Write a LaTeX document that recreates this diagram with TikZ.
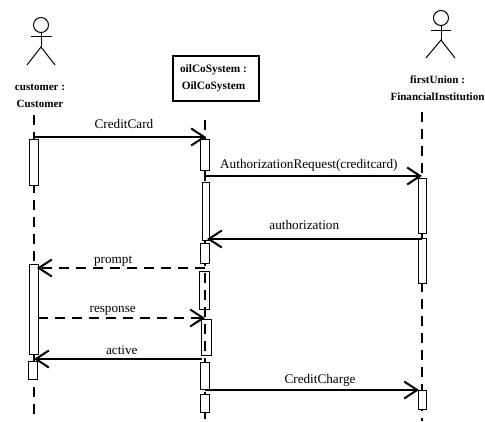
\documentclass[tikz,border=0pt]{standalone}
\usepackage{fontspec}
\setmainfont{Liberation Serif}
\usetikzlibrary{arrows.meta}
\tikzset{
	head/.style={circle, draw, line width=1pt, minimum size=15pt, inner sep=0pt},
	limb/.style={-, line width=1pt},
	caption/.style={font=\fontsize{11.05}{17}\selectfont\bfseries, inner sep=0pt, align=center},
	objectbox/.style={draw, line width=1.2pt, minimum width=86pt, minimum height=45pt, inner sep=0pt, align=center, font=\fontsize{11.3}{16.5}\selectfont\bfseries},
	lifeline/.style={-, line width=1.8pt, dash pattern=on 10pt off 7pt},
	activation/.style={draw, fill=white, line width=.9pt, minimum width=8.5pt, inner sep=0pt},
	glass/.style={activation, fill=none},
	msg/.style={-{Straight Barb[length=13pt,width=17pt,line width=2pt]}, line width=1.8pt, shorten >=-1pt},
	reply/.style={msg, dash pattern=on 10pt off 7pt},
	msgtext/.style={font=\fontsize{13.2}{15}\selectfont, inner sep=0pt, anchor=base}
}
\begin{document}
\begin{tikzpicture}[x=1pt,y=-1pt]
	\useasboundingbox (0,0) rectangle (485,421);
	% actors
	\node[head] (customer-head) at (41,25) {};
	\coordinate (customer-hip) at (41,47);
	\coordinate (customer-larm) at (31,36);
	\coordinate (customer-rarm) at (52,36);
	\coordinate (customer-lfoot) at (27,65);
	\coordinate (customer-rfoot) at (55,65);
	\draw[limb] (customer-head) -- (customer-hip) (customer-larm) -- (customer-rarm);
	\draw[limb] (customer-lfoot) -- (customer-hip) -- (customer-rfoot);
	\node[caption] (customer-name) at (40,95.5) {customer :\\Customer};

	\node[head] (union-head) at (441,18) {};
	\coordinate (union-hip) at (441,40);
	\coordinate (union-larm) at (431,30);
	\coordinate (union-rarm) at (451,30);
	\coordinate (union-lfoot) at (426,58);
	\coordinate (union-rfoot) at (455,58);
	\draw[limb] (union-head) -- (union-hip) (union-larm) -- (union-rarm);
	\draw[limb] (union-lfoot) -- (union-hip) -- (union-rfoot);
	\node[caption] (union-name) at (437.5,88) {firstUnion :\\FinancialInstitution};

	\node[objectbox] (system) at (216,78.5) {oilCoSystem :\hspace*{5pt}\\OilCoSystem\hspace*{5pt}};

	% lifelines
	\coordinate (customer-top) at (34,115);
	\coordinate (customer-end) at (34,416);
	\coordinate (system-top) at (205,120);
	\coordinate (system-end) at (205,421);
	\coordinate (union-top) at (422,112);
	\coordinate (union-end) at (422,421);
	\draw[lifeline] (customer-top) -- (customer-end);
	\draw[lifeline] (system-top) -- (system-end);
	\draw[lifeline] (union-top) -- (union-end);

	% activations
	\node[activation, minimum height=46pt] (customer-a) at (34,162) {};
	\node[activation, minimum height=90pt, minimum width=9pt] (customer-b) at (33.5,309) {};
	\node[activation, minimum height=18pt] (customer-c) at (33,370) {};
	\node[activation, minimum height=31pt] (system-a) at (205,154.5) {};
	\node[activation, minimum height=58pt, minimum width=7.5pt] (system-b) at (206,211) {};
	\node[activation, minimum height=20pt] (system-c) at (205,253) {};
	\node[glass, minimum height=38pt, minimum width=10pt] (system-d) at (204,290) {};
	\node[glass, minimum height=36pt, minimum width=10pt] (system-e) at (206,337) {};
	\node[activation, minimum height=27pt] (system-f) at (205,375.5) {};
	\node[activation, minimum height=18pt] (system-g) at (205,403) {};
	\node[activation, minimum height=55pt] (union-a) at (422.5,205.5) {};
	\node[activation, minimum height=45pt] (union-b) at (422.5,260.5) {};
	\node[activation, minimum height=19pt] (union-c) at (422.5,399.5) {};

	% message ends
	\coordinate (card-from) at (34,137);
	\coordinate (card-to) at (205,137);
	\coordinate (request-from) at (205,176);
	\coordinate (request-to) at (421,176);
	\coordinate (answer-from) at (422,239);
	\coordinate (answer-to) at (208,239);
	\coordinate (prompt-from) at (205,268);
	\coordinate (prompt-to) at (38,268);
	\coordinate (response-from) at (38,318);
	\coordinate (response-to) at (204,318);
	\coordinate (active-from) at (202,359);
	\coordinate (active-to) at (35,359);
	\coordinate (charge-from) at (205,390);
	\coordinate (charge-to) at (418,390);

	\path
		(card-from)     edge [msg]   node [msgtext, pos=.526, yshift=9pt] (card-text)     {CreditCard}                       (card-to)
		(request-from)  edge [msg]   node [msgtext, pos=.481, yshift=8pt] (request-text)  {AuthorizationRequest(creditcard)} (request-to)
		(answer-from)   edge [msg]   node [msgtext, pos=.55, yshift=10pt] (answer-text)   {authorization}                    (answer-to)
		(prompt-from)   edge [reply] node [msgtext, pos=.55, yshift=5pt]  (prompt-text)   {prompt}                           (prompt-to)
		(response-from) edge [reply] node [msgtext, pos=.45, yshift=6pt]  (response-text) {response}                         (response-to)
		(active-from)   edge [msg]   node [msgtext, pos=.48, yshift=5pt]  (active-text)   {active}                           (active-to)
		(charge-from)   edge [msg]   node [msgtext, pos=.54, yshift=7pt]  (charge-text)   {CreditCharge}                     (charge-to);
\end{tikzpicture}
\end{document}
